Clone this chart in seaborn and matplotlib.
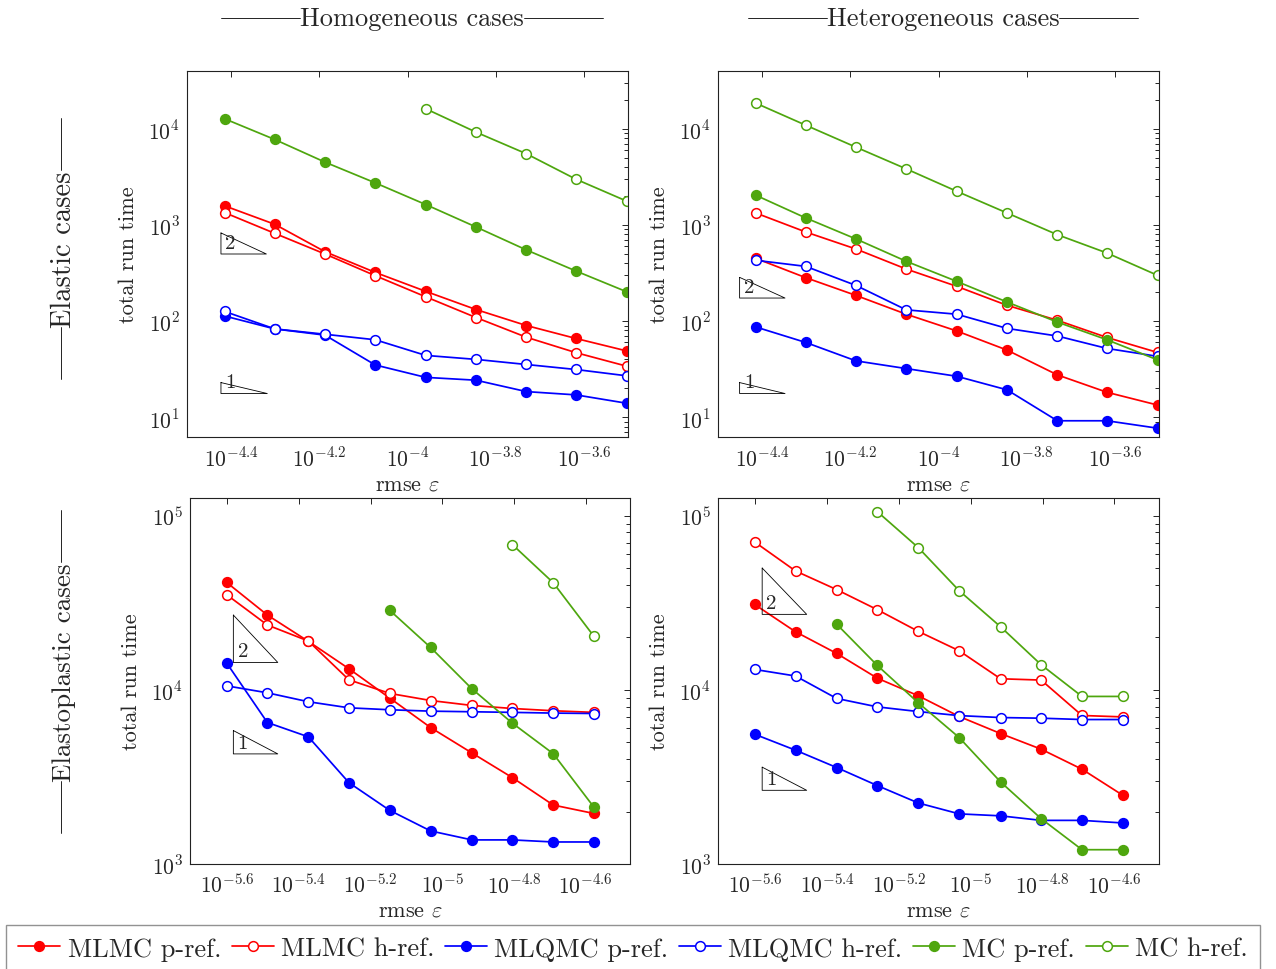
import matplotlib
matplotlib.use("Agg")
import matplotlib.pyplot as plt
from matplotlib.lines import Line2D
from matplotlib.ticker import FixedLocator, FixedFormatter, LogLocator, NullFormatter, NullLocator
import seaborn as sns

W, H = 1276, 970

# rmse values (x axis)
EPS_ELASTIC = [3.85e-5, 5.0e-5, 6.5e-5, 8.45e-5, 1.10e-4, 1.43e-4, 1.86e-4, 2.41e-4, 3.14e-4]
EPS_PLASTIC = [2.5e-6, 3.25e-6, 4.23e-6, 5.49e-6, 7.14e-6, 9.28e-6, 1.21e-5, 1.57e-5, 2.04e-5, 2.65e-5]

# homogeneous, elastic
HOM_EL_MLMC_P = [1580, 1016, 527, 321, 204, 132, 90, 66, 49]
HOM_EL_MLMC_H = [1343, 818, 499, 297, 179, 109, 68, 47, 34]
HOM_EL_MLQMC_P = [113, 83, 71.5, 35, 26, 24.3, 18.5, 17.1, 14]
HOM_EL_MLQMC_H = [126, 83, 73, 64, 44, 40, 35.4, 31.4, 27]
HOM_EL_MC_P = [12700, 7740, 4500, 2740, 1630, 953, 550, 332, 202]
HOM_EL_MC_H = [16150, 9230, 5500, 2990, 1770]

# heterogeneous, elastic
HET_EL_MLMC_P = [450, 283, 185, 118, 79, 50, 27.6, 18.2, 13.4]
HET_EL_MLMC_H = [1333, 845, 562, 348, 230, 146, 102, 67.6, 47.2]
HET_EL_MLQMC_P = [87, 60, 38.6, 32.1, 26.7, 19.3, 9.2, 9.2, 7.7]
HET_EL_MLQMC_H = [429, 371, 235, 131, 118, 84, 70, 52, 43]
HET_EL_MC_P = [2040, 1183, 715, 419, 259, 158, 97.7, 64, 39.5]
HET_EL_MC_H = [18500, 10900, 6440, 3830, 2240, 1333, 792, 511, 299]

# homogeneous, elastoplastic
HOM_PL_MLMC_P = [41400, 26860, 18970, 13210, 8960, 6070, 4340, 3130, 2180, 1950]
HOM_PL_MLMC_H = [35200, 23550, 19050, 11410, 9530, 8680, 8130, 7810, 7580, 7420]
HOM_PL_MLQMC_P = [14290, 6490, 5370, 2930, 2030, 1548, 1375, 1375, 1338, 1338]
HOM_PL_MLQMC_H = [10540, 9610, 8540, 7880, 7680, 7540, 7480, 7420, 7350, 7310]
HOM_PL_MC_P = [28570, 17500, 10130, 6430, 4300, 2120]
HOM_PL_MC_H = [68100, 41200, 20280]

# heterogeneous, elastoplastic
HET_PL_MLMC_P = [30900, 21530, 16180, 11660, 9240, 7030, 5610, 4560, 3500, 2480]
HET_PL_MLMC_H = [70600, 48100, 37600, 28840, 21650, 16750, 11570, 11370, 7120, 6990]
HET_PL_MLQMC_P = [5560, 4500, 3580, 2820, 2240, 1940, 1890, 1780, 1780, 1720]
HET_PL_MLQMC_H = [13090, 12000, 8920, 7980, 7500, 7110, 6930, 6870, 6750, 6750]
HET_PL_MC_P = [23820, 13800, 8420, 5320, 2960, 1820, 1208, 1208]
HET_PL_MC_H = [105400, 65500, 37060, 23010, 13920, 9160, 9160]

SERIES = ["MLMC p-ref.", "MLMC h-ref.", "MLQMC p-ref.", "MLQMC h-ref.", "MC p-ref.", "MC h-ref."]
COLORS = ["#ff0000", "#ff0000", "#0000ff", "#0000ff", "#4ea60e", "#4ea60e"]
FILLED = [True, False, True, False, True, False]

XTICKS_EL = [-4.4, -4.2, -4.0, -3.8, -3.6]
XTICKS_PL = [-5.6, -5.4, -5.2, -5.0, -4.8, -4.6]
YTICKS_EL = [1, 2, 3, 4]
YTICKS_PL = [3, 4, 5]

# slope triangles: (log x left, log x right, log y bottom, log y top, label)
TRI_HOM_EL = [(-4.423, -4.320, 2.698, 2.917, "2"), (-4.423, -4.318, 1.247, 1.361, "1")]
TRI_HET_EL = [(-4.451, -4.348, 2.240, 2.455, "2"), (-4.451, -4.348, 1.247, 1.361, "1")]
TRI_HOM_PL = [(-5.583, -5.459, 4.157, 4.429, "2"), (-5.583, -5.459, 3.632, 3.766, "1")]
TRI_HET_PL = [(-5.581, -5.457, 4.433, 4.699, "2"), (-5.581, -5.457, 3.423, 3.556, "1")]

sns.set_style("white")
plt.rcParams["font.family"] = ["cmr10", "DejaVu Serif"]
plt.rcParams["mathtext.fontset"] = "cm"
plt.rcParams["axes.formatter.use_mathtext"] = True
plt.rcParams["axes.unicode_minus"] = False

LW, MS, MEW = 1.25, 7.0, 1.1


def px_rect(left, top, right, bottom):
    return [left / W, 1 - bottom / H, (right - left) / W, (bottom - top) / H]


def draw_panel(ax, eps, series, xticks, yticks, xlim, ylim, triangles):
    ax.set_xscale("log")
    ax.set_yscale("log")
    for vals, name, color, filled in zip(series, SERIES, COLORS, FILLED):
        sns.lineplot(x=eps[len(eps) - len(vals):], y=vals, ax=ax, color=color,
                     marker="o", markersize=MS, markeredgewidth=MEW,
                     markerfacecolor=color if filled else "white",
                     markeredgecolor=color, linewidth=LW, errorbar=None,
                     legend=False)
    for x0, x1, y0, y1, lab in triangles:
        ax.plot([10 ** x0, 10 ** x0, 10 ** x1, 10 ** x0],
                [10 ** y1, 10 ** y0, 10 ** y0, 10 ** y1],
                color="black", linewidth=0.6, zorder=5)
        ax.annotate(lab, (10 ** x0, 10 ** y0), xytext=(3, 1.5),
                    textcoords="offset points", ha="left", va="bottom",
                    fontsize=15, zorder=6)
    ax.set_xlim(10 ** xlim[0], 10 ** xlim[1])
    ax.set_ylim(10 ** ylim[0], 10 ** ylim[1])
    ax.xaxis.set_major_locator(FixedLocator([10 ** e for e in xticks]))
    ax.xaxis.set_major_formatter(FixedFormatter([f"$10^{{{e:g}}}$" for e in xticks]))
    ax.xaxis.set_minor_locator(NullLocator())
    ax.yaxis.set_major_locator(FixedLocator([10 ** e for e in yticks]))
    ax.yaxis.set_major_formatter(FixedFormatter([f"$10^{{{e}}}$" for e in yticks]))
    ax.yaxis.set_minor_locator(LogLocator(base=10, subs=[2, 3, 4, 5, 6, 7, 8, 9], numticks=20))
    ax.yaxis.set_minor_formatter(NullFormatter())
    ax.tick_params(which="both", direction="in", top=True, right=True,
                   width=0.6, color="black", labelsize=15.5)
    ax.tick_params(which="major", length=4.4)
    ax.tick_params(which="minor", length=3.2)
    ax.tick_params(axis="x", pad=6)
    ax.tick_params(axis="y", pad=5)
    for s in ax.spines.values():
        s.set_color("#222222")
        s.set_linewidth(0.8)
    ax.set_xlabel("rmse $\\varepsilon$", fontsize=16, va="baseline")
    ax.set_ylabel("total run time", fontsize=16, va="baseline", rotation_mode="anchor")
    ax.yaxis.set_label_coords(-0.12, 0.5)


fig = plt.figure(figsize=(W / 100, H / 100), dpi=100)

ax_tl = fig.add_axes(px_rect(187, 72, 628, 438))
ax_tr = fig.add_axes(px_rect(718, 72, 1159, 438))
ax_bl = fig.add_axes(px_rect(190, 499, 630, 865))
ax_br = fig.add_axes(px_rect(718, 499, 1159, 865))

draw_panel(ax_tl, EPS_ELASTIC,
           [HOM_EL_MLMC_P, HOM_EL_MLMC_H, HOM_EL_MLQMC_P, HOM_EL_MLQMC_H, HOM_EL_MC_P, HOM_EL_MC_H],
           XTICKS_EL, YTICKS_EL, (-4.5, -3.5), (0.795, 4.601), TRI_HOM_EL)
draw_panel(ax_tr, EPS_ELASTIC,
           [HET_EL_MLMC_P, HET_EL_MLMC_H, HET_EL_MLQMC_P, HET_EL_MLQMC_H, HET_EL_MC_P, HET_EL_MC_H],
           XTICKS_EL, YTICKS_EL, (-4.5, -3.5), (0.795, 4.601), TRI_HET_EL)
draw_panel(ax_bl, EPS_PLASTIC,
           [HOM_PL_MLMC_P, HOM_PL_MLMC_H, HOM_PL_MLQMC_P, HOM_PL_MLQMC_H, HOM_PL_MC_P, HOM_PL_MC_H],
           XTICKS_PL, YTICKS_PL, (-5.704, -4.476), (3.0, 5.101), TRI_HOM_PL)
draw_panel(ax_br, EPS_PLASTIC,
           [HET_PL_MLMC_P, HET_PL_MLMC_H, HET_PL_MLQMC_P, HET_PL_MLQMC_H, HET_PL_MC_P, HET_PL_MC_H],
           XTICKS_PL, YTICKS_PL, (-5.704, -4.476), (3.0, 5.101), TRI_HET_PL)

for ax in (ax_tl, ax_tr):
    ax.xaxis.set_label_coords(0.5, -53 / 366)
for ax in (ax_bl, ax_br):
    ax.xaxis.set_label_coords(0.5, -52 / 366)

# column and row headers with rules on both sides
col_titles = [
    fig.text(412 / W, 1 - 26 / H, "Homogeneous cases", ha="center", va="baseline", fontsize=19),
    fig.text(943 / W, 1 - 26 / H, "Heterogeneous cases", ha="center", va="baseline", fontsize=19),
]
row_titles = [
    fig.text(71 / W, 1 - 249.5 / H, "Elastic cases", rotation=90, rotation_mode="anchor",
             ha="center", va="baseline", fontsize=20.5),
    fig.text(71 / W, 1 - 672.5 / H, "Elastoplastic cases", rotation=90, rotation_mode="anchor",
             ha="center", va="baseline", fontsize=19.5),
]

handles = [Line2D([], [], color=c, marker="o", markersize=MS, markeredgewidth=MEW,
                  markerfacecolor=c if f else "white", markeredgecolor=c, linewidth=LW)
           for c, f in zip(COLORS, FILLED)]
leg = fig.legend(handles, SERIES, loc="upper center", bbox_to_anchor=(633 / W, 1 - 926 / H),
                 ncol=6, fontsize=19, frameon=True, fancybox=False, edgecolor="#777777",
                 handlelength=1.6, handletextpad=0.27, columnspacing=0.4,
                 borderpad=0.45, borderaxespad=0.0)
leg.get_frame().set_linewidth(1.0)

renderer = fig.canvas.get_renderer()
rule = 79
for t in col_titles:
    bb = t.get_window_extent(renderer)
    y = (H - 19) / H
    for xa, xb in ((bb.x0 - rule, bb.x0), (bb.x1, bb.x1 + rule)):
        fig.add_artist(Line2D([xa / W, xb / W], [y, y], transform=fig.transFigure,
                              color="black", linewidth=0.6))
for t in row_titles:
    bb = t.get_window_extent(renderer)
    x = 61 / W
    for ya, yb in ((bb.y1, bb.y1 + 52), (bb.y0 - 52, bb.y0)):
        fig.add_artist(Line2D([x, x], [ya / H, yb / H], transform=fig.transFigure,
                              color="black", linewidth=0.6))

fig.savefig("out.png", dpi=100)
